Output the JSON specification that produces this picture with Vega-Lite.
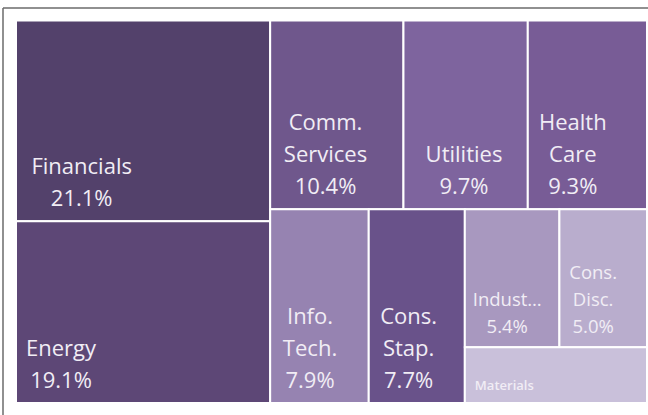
{
  "$schema": "https://vega.github.io/schema/vega-lite/v6.json",
  "width": 645,
  "height": 407,
  "autosize": {"type": "none"},
  "padding": {"left": 3, "top": 8, "right": 0, "bottom": 0},
  "background": "white",
  "config": {"view": {"stroke": null}},
  "data": {
    "values": [
      {"sector": "Financials", "label": "Financials", "value": 21.1, "ord": 1, "g1": "A", "g2": "Financials", "g3": "Financials", "g4": "Financials"},
      {"sector": "Energy", "label": "Energy", "value": 19.1, "ord": 2, "g1": "A", "g2": "Energy", "g3": "Energy", "g4": "Energy"},
      {"sector": "Communication Services", "label": "Comm.\nServices", "value": 10.4, "ord": 3, "g1": "B", "g2": "B1", "g3": "Communication Services", "g4": "Communication Services"},
      {"sector": "Utilities", "label": "Utilities", "value": 9.7, "ord": 4, "g1": "B", "g2": "B1", "g3": "Utilities", "g4": "Utilities"},
      {"sector": "Health Care", "label": "Health\nCare", "value": 9.3, "ord": 5, "g1": "B", "g2": "B1", "g3": "Health Care", "g4": "Health Care"},
      {"sector": "Information Technology", "label": "Info.\nTech.", "value": 7.9, "ord": 6, "g1": "B", "g2": "B2", "g3": "Information Technology", "g4": "Information Technology"},
      {"sector": "Consumer Staples", "label": "Cons.\nStap.", "value": 7.7, "ord": 7, "g1": "B", "g2": "B2", "g3": "Consumer Staples", "g4": "Consumer Staples"},
      {"sector": "Industrials", "label": "Indust…", "value": 5.4, "ord": 8, "g1": "B", "g2": "B2", "g3": "G", "g4": "G1"},
      {"sector": "Consumer Discretionary", "label": "Cons.\nDisc.", "value": 5.0, "ord": 9, "g1": "B", "g2": "B2", "g3": "G", "g4": "G1"},
      {"sector": "Materials", "label": "Materials", "value": 4.2, "ord": 10, "g1": "B", "g2": "B2", "g3": "G", "g4": "Materials"}
    ]
  },
  "transform": [
    {"window": [{"op": "sum", "field": "value", "as": "cum"}], "sort": [{"field": "ord"}], "frame": [null, 0]},
    {"calculate": "datum.cum - datum.value", "as": "prev"},
    {"joinaggregate": [{"op": "sum", "field": "value", "as": "T"}]},
    {"joinaggregate": [{"op": "min", "field": "prev", "as": "s1"}, {"op": "sum", "field": "value", "as": "t1"}], "groupby": ["g1"]},
    {"joinaggregate": [{"op": "min", "field": "prev", "as": "s2"}, {"op": "sum", "field": "value", "as": "t2"}], "groupby": ["g1", "g2"]},
    {"joinaggregate": [{"op": "min", "field": "prev", "as": "s3"}, {"op": "sum", "field": "value", "as": "t3"}], "groupby": ["g1", "g2", "g3"]},
    {"joinaggregate": [{"op": "min", "field": "prev", "as": "s4"}, {"op": "sum", "field": "value", "as": "t4"}], "groupby": ["g1", "g2", "g3", "g4"]},
    {"calculate": "datum.s1 / datum.T", "as": "a0"},
    {"calculate": "(datum.s1 + datum.t1) / datum.T", "as": "a1"},
    {"calculate": "(datum.s2 - datum.s1) / datum.t1", "as": "b0"},
    {"calculate": "(datum.s2 + datum.t2 - datum.s1) / datum.t1", "as": "b1"},
    {"calculate": "datum.a0 + (datum.a1 - datum.a0) * (datum.s3 - datum.s2) / datum.t2", "as": "c0"},
    {"calculate": "datum.a0 + (datum.a1 - datum.a0) * (datum.s3 + datum.t3 - datum.s2) / datum.t2", "as": "c1"},
    {"calculate": "datum.b0 + (datum.b1 - datum.b0) * (datum.s4 - datum.s3) / datum.t3", "as": "y0"},
    {"calculate": "datum.b0 + (datum.b1 - datum.b0) * (datum.s4 + datum.t4 - datum.s3) / datum.t3", "as": "y1"},
    {"calculate": "datum.c0 + (datum.c1 - datum.c0) * (datum.prev - datum.s4) / datum.t4", "as": "x0"},
    {"calculate": "datum.c0 + (datum.c1 - datum.c0) * (datum.prev + datum.value - datum.s4) / datum.t4", "as": "x1"},
    {"calculate": "format(datum.value, '.1f') + '%'", "as": "pct"},
    {"calculate": "datum.value >= 5 ? datum.label + '\\n' + datum.pct : datum.label", "as": "txt"},
    {"calculate": "datum.value >= 7 ? 22 : datum.value >= 5 ? 18.5 : 13", "as": "fs"},
    {"calculate": "datum.value >= 7 ? 32 : 27", "as": "lh"},
    {"calculate": "split(datum.label, '\\n')", "as": "lines"},
    {"calculate": "length(datum.lines) + (datum.value >= 5 ? 1 : 0)", "as": "nl"},
    {"calculate": "max(length(datum.lines[0]), length(datum.lines) > 1 ? length(datum.lines[1]) : 0)", "as": "ml"},
    {"calculate": "datum.value >= 5 ? length(datum.pct) : 0", "as": "pl"},
    {"calculate": "datum.x0 + ((datum.value >= 7 ? 14 : 12) + max(datum.ml * 0.47 * datum.fs, datum.pl * 0.56 * datum.fs) / 2) / 631", "as": "cx"},
    {"calculate": "datum.y1 - (datum.nl - 1) * datum.lh / 382.5", "as": "ty"}
  ],
  "layer": [
    {
      "mark": {"type": "rect", "stroke": "white", "strokeWidth": 2},
      "encoding": {
        "x": {"field": "x0", "type": "quantitative", "scale": {"domain": [-0.0206, 1.0016], "nice": false, "zero": false}, "axis": null},
        "x2": {"field": "x1"},
        "y": {"field": "y0", "type": "quantitative", "scale": {"domain": [-0.0327, 1.0314], "reverse": true, "nice": false, "zero": false}, "axis": null},
        "y2": {"field": "y1"},
        "color": {
          "field": "sector",
          "type": "nominal",
          "legend": null,
          "scale": {
            "domain": ["Financials", "Energy", "Communication Services", "Utilities", "Health Care", "Information Technology", "Consumer Staples", "Industrials", "Consumer Discretionary", "Materials"],
            "range": ["#53416B", "#5D4776", "#6F578C", "#7E649E", "#785C96", "#9683B1", "#69528A", "#A898BF", "#B9ADCD", "#C9C0DA"]
          }
        }
      }
    },
    {
      "transform": [{"filter": "datum.value >= 7"}],
      "mark": {"type": "text", "align": "center", "baseline": "bottom", "dy": -10, "fontSize": 22, "lineHeight": 32, "lineBreak": "\n", "font": "Open Sans", "color": "#F1EDF5"},
      "encoding": {
        "x": {"field": "cx", "type": "quantitative", "scale": {"domain": [-0.0206, 1.0016], "nice": false, "zero": false}, "axis": null},
        "y": {"field": "ty", "type": "quantitative", "scale": {"domain": [-0.0327, 1.0314], "reverse": true, "nice": false, "zero": false}, "axis": null},
        "text": {"field": "txt"}
      }
    },
    {
      "transform": [{"filter": "datum.value < 7 && datum.value >= 5"}],
      "mark": {"type": "text", "align": "center", "baseline": "bottom", "dy": -10, "fontSize": 18.5, "lineHeight": 27, "lineBreak": "\n", "font": "Open Sans", "color": "#F1EDF5"},
      "encoding": {
        "x": {"field": "cx", "type": "quantitative", "scale": {"domain": [-0.0206, 1.0016], "nice": false, "zero": false}, "axis": null},
        "y": {"field": "ty", "type": "quantitative", "scale": {"domain": [-0.0327, 1.0314], "reverse": true, "nice": false, "zero": false}, "axis": null},
        "text": {"field": "txt"}
      }
    },
    {
      "transform": [{"filter": "datum.value < 5"}],
      "mark": {"type": "text", "align": "center", "baseline": "bottom", "dy": -10, "fontSize": 13, "fontWeight": 600, "lineBreak": "\n", "font": "Open Sans", "color": "#F1EDF5"},
      "encoding": {
        "x": {"field": "cx", "type": "quantitative", "scale": {"domain": [-0.0206, 1.0016], "nice": false, "zero": false}, "axis": null},
        "y": {"field": "ty", "type": "quantitative", "scale": {"domain": [-0.0327, 1.0314], "reverse": true, "nice": false, "zero": false}, "axis": null},
        "text": {"field": "txt"}
      }
    },
    {
      "data": {"values": [{}]},
      "mark": {"type": "rule", "color": "#6B6B6B", "strokeWidth": 1.5},
      "encoding": {"x": {"datum": -0.0206, "type": "quantitative"}}
    },
    {
      "data": {"values": [{}]},
      "mark": {"type": "rule", "color": "#6B6B6B", "strokeWidth": 1.5},
      "encoding": {"y": {"datum": -0.0327, "type": "quantitative"}}
    }
  ]
}
